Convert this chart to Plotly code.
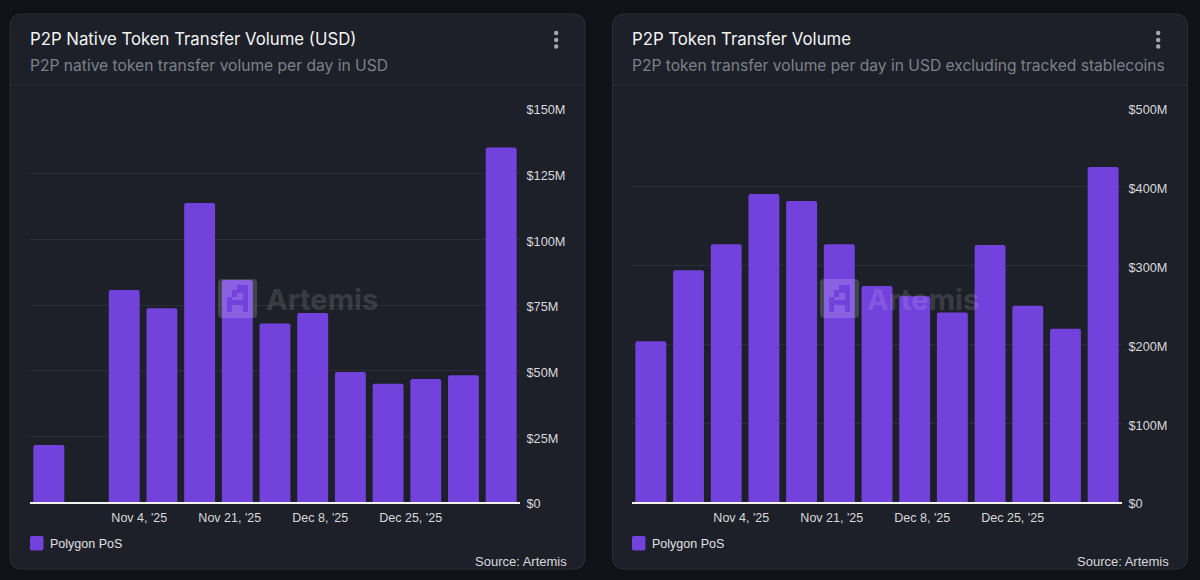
import plotly.graph_objects as go

W = 1200
H = 580

# weekly bars, second week has nothing
weeks = list(range(13))
native_volume = [21.7, 0, 80.7, 73.8, 113.8, 84.5, 68, 72, 49.5, 45, 46.8, 48.3, 135]
token_volume = [204, 294, 327, 391, 382, 327, 274, 261, 240.5, 326, 249, 220, 425]

tick_pos = [2.4, 4.8, 7.2, 9.6]
tick_labels = ["Nov 4, '25", "Nov 21, '25", "Dec 8, '25", "Dec 25, '25"]

native_ticks = [0, 25, 50, 75, 100, 125, 150]
token_ticks = [0, 100, 200, 300, 400, 500]

series_name = "Polygon PoS"
source_text = "Source: Artemis"
titles = ["P2P Native Token Transfer Volume (USD)", "P2P Token Transfer Volume"]
subtitles = ["P2P native token transfer volume per day in USD",
             "P2P token transfer volume per day in USD excluding tracked stablecoins"]

PAGE = "#111218"
CARD = "#1d2029"
BORDER = "#2c2f39"
BAR = "#7341dc"
GRID = "#2b2e37"
SANS = "Liberation Sans, Arial, sans-serif"
HEAD = "Inter, sans-serif"


def px(x):
    return x / W


def py(y):
    return 1 - y / H


def round_rect(x0, y0, x1, y1, r):
    # rounded rect as an svg path in paper coords
    p = f"M{px(x0 + r)},{py(y0)} L{px(x1 - r)},{py(y0)} Q{px(x1)},{py(y0)} {px(x1)},{py(y0 + r)} "
    p += f"L{px(x1)},{py(y1 - r)} Q{px(x1)},{py(y1)} {px(x1 - r)},{py(y1)} "
    p += f"L{px(x0 + r)},{py(y1)} Q{px(x0)},{py(y1)} {px(x0)},{py(y1 - r)} "
    p += f"L{px(x0)},{py(y0 + r)} Q{px(x0)},{py(y0)} {px(x0 + r)},{py(y0)} Z"
    return p


def poly(points, dx):
    return "M" + " L".join(f"{px(x + dx)},{py(y)}" for x, y in points) + " Z"


# pixel A of the watermark, cut out of the square
logo_a = [(227, 312), (227, 297), (232, 297), (232, 290), (237, 290), (237, 285), (248, 285), (248, 312),
          (243, 312), (243, 305), (232, 305), (232, 312)]
logo_hole = [(237, 293), (243, 293), (243, 300), (232, 300), (232, 297), (237, 297)]

fig = go.Figure()
shapes = []
annotations = []


def add_panel(n, dx, values, ticks, card_x0, card_x1):
    xname = "x" if n == 1 else "x2"
    yname = "y" if n == 1 else "y2"
    fig.add_trace(go.Bar(x=weeks, y=values, name=series_name, width=0.82, xaxis=xname, yaxis=yname,
                         marker=dict(color=BAR, cornerradius=2, line=dict(width=0)), showlegend=False))
    fig.update_layout({
        ("xaxis" if n == 1 else "xaxis2"): dict(
            domain=[px(30 + dx), px(520 + dx)], range=[-0.5, 12.5], anchor=yname, automargin=False,
            tickmode="array", tickvals=tick_pos, ticktext=tick_labels, showgrid=False, zeroline=False,
            showline=True, linecolor="#f2f2f2", linewidth=1.5, ticks="outside", ticklen=3, tickcolor="rgba(0,0,0,0)",
            tickfont=dict(family=SANS, size=12.5, color="#d9d9dc")),
        ("yaxis" if n == 1 else "yaxis2"): dict(
            domain=[py(502), py(108)], range=[0, ticks[-1]], anchor=xname, side="right", automargin=False,
            tickmode="array", tickvals=ticks, ticktext=[f"${t}M" if t else "$0" for t in ticks],
            showgrid=True, gridcolor=GRID, gridwidth=1, zeroline=False, layer="above traces",
            ticks="outside", ticklen=3, tickcolor="rgba(0,0,0,0)", ticklabelshift=2,
            tickfont=dict(family=SANS, size=12.7, color="#d9d9dc")),
    })
    shapes.append(dict(type="path", xref="paper", yref="paper", path=round_rect(card_x0, 14, card_x1, 569, 12),
                       fillcolor=CARD, line=dict(color=BORDER, width=1), layer="below"))
    shapes.append(dict(type="line", xref="paper", yref="paper", x0=px(card_x0), x1=px(card_x1), y0=py(85), y1=py(85),
                       line=dict(color=BORDER, width=1), layer="below"))
    # three dots menu
    for y in [33, 40, 46.5]:
        shapes.append(dict(type="circle", xref="paper", yref="paper", x0=px(554 + dx), x1=px(558.4 + dx),
                           y0=py(y + 2.2), y1=py(y - 2.2), fillcolor="#a5a7ad", line=dict(width=0)))
    # legend swatch
    shapes.append(dict(type="path", xref="paper", yref="paper", path=round_rect(30 + dx, 536, 43.5 + dx, 550.5, 2),
                       fillcolor=BAR, line=dict(width=0)))
    # watermark
    logo = round_rect(218 + dx, 279, 257 + dx, 318, 4) + " " + poly(logo_a, dx) + " " + poly(logo_hole, dx)
    shapes.append(dict(type="path", xref="paper", yref="paper", path=logo,
                       fillcolor="rgba(255,255,255,0.17)", line=dict(width=0), layer="above"))

    def label(text, x, y, size, color, family=SANS, anchor="left", weight=None):
        annotations.append(dict(text=text, xref="paper", yref="paper", x=px(x), y=py(y), showarrow=False,
                                xanchor=anchor, yanchor="middle", align=anchor,
                                font=dict(size=size, color=color, family=family, weight=weight)))

    label(titles[n - 1], 28 + dx, 39, 16.75, "#f4f4f5", HEAD, weight=400)
    label(subtitles[n - 1], 28 + dx, 65.4, 15.6, "#7d8089", HEAD)
    label(series_name, 48 + dx, 543.5, 12.5, "#e0e0e3")
    label(source_text, 569 + dx, 561, 13, "#d9d9dc", anchor="right")
    label("Artemis", 263.5 + dx, 299, 29, "rgba(255,255,255,0.15)", HEAD, weight=700)


add_panel(1, 0, native_volume, native_ticks, 10, 585)
add_panel(2, 602, token_volume, token_ticks, 612.5, 1187.5)

fig.update_layout(width=W, height=H, margin=dict(l=0, r=0, t=0, b=0), paper_bgcolor=PAGE, plot_bgcolor="rgba(0,0,0,0)",
                  bargap=0.18, shapes=shapes, annotations=annotations)

fig.write_html("out.html", config={"displayModeBar": False},
               post_script="document.body.style.margin='0';document.body.style.background='#111218';")
